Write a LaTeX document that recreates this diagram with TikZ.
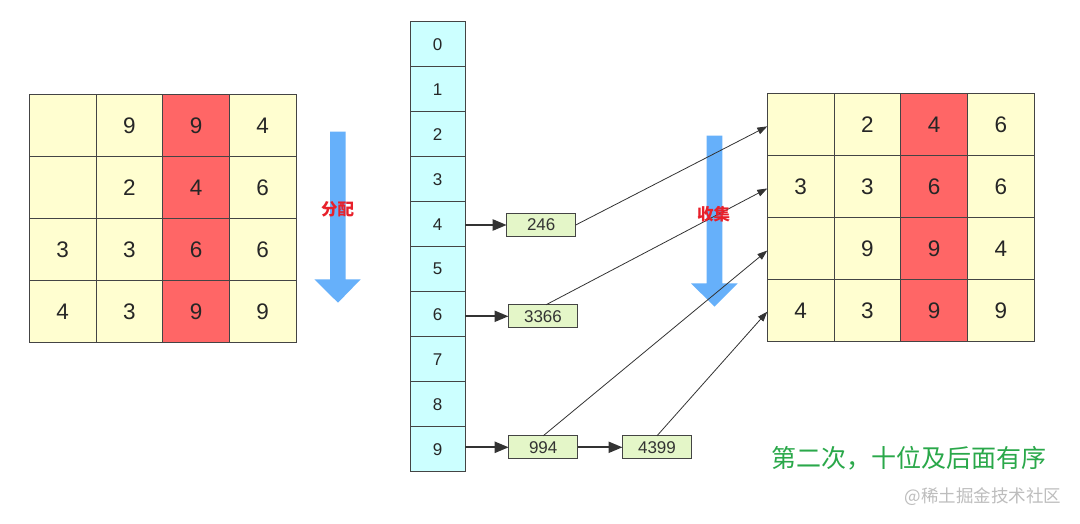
\documentclass[tikz,border=0pt]{standalone}
\usepackage{fontspec}
\setmainfont{Liberation Sans}
\newfontfamily\cjk{Noto Sans CJK SC}
\usetikzlibrary{arrows.meta}
\definecolor{yelc}{HTML}{FFFED0}
\definecolor{redc}{HTML}{FF6666}
\definecolor{cyanc}{HTML}{CCFFFF}
\definecolor{greenbox}{HTML}{E4F6C8}
\definecolor{bluearrow}{HTML}{66B0FA}
\definecolor{edgec}{HTML}{444444}
\definecolor{redtext}{HTML}{E8202A}
\definecolor{greentext}{HTML}{2AA84A}
\definecolor{wm}{HTML}{BDBDBD}
\begin{document}
\begin{tikzpicture}[x=1pt,y=-1pt,
  cell/.style={draw=edgec, line width=0.9pt, inner sep=0pt, outer sep=0pt,
    minimum width=66.7pt, minimum height=62pt, font=\fontsize{22.5}{22.5}\selectfont, text=black!85},
  bucket/.style={draw=edgec, line width=0.9pt, fill=cyanc, inner sep=0pt, outer sep=0pt,
    minimum width=55pt, minimum height=45pt, font=\fontsize{17}{17}\selectfont, text=black!85},
  valbox/.style={draw=edgec, line width=0.9pt, fill=greenbox, inner sep=0pt, outer sep=0pt,
    minimum width=69pt, minimum height=23pt, font=\fontsize{17}{17}\selectfont, text=black!80},
  thick arrow/.style={draw=black!80, line width=2.2pt, -{Triangle[length=14pt,width=11pt]}},
  thin arrow/.style={draw=black!80, line width=0.8pt, -{Triangle[length=10pt,width=7pt]}},
  bigarrow/.style={fill=bluearrow, draw=none},
  redlabel/.style={font=\cjk\bfseries\fontsize{16.5}{16.5}\selectfont, text=redtext}
]
\useasboundingbox[fill=white] (0,0) rectangle (1080,524);

% left grid
\foreach \row [count=\i] in {{{},9,9,4},{{},2,4,6},{3,3,6,6},{4,3,9,9}} {
  \foreach \v [count=\j] in \row {
    \ifnum\j=3 \def\fc{redc}\else\def\fc{yelc}\fi
    \node[cell, fill=\fc] (L\i\j) at ({29.3+66.7*(\j-0.5)}, {95+61.8*(\i-0.5)}) {\v};
  }
}
% right grid
\foreach \row [count=\i] in {{{},2,4,6},{3,3,6,6},{{},9,9,4},{4,3,9,9}} {
  \foreach \v [count=\j] in \row {
    \ifnum\j=3 \def\fc{redc}\else\def\fc{yelc}\fi
    \node[cell, fill=\fc] (R\i\j) at ({767.3+66.7*(\j-0.5)}, {93.3+62.1*(\i-0.5)}) {\v};
  }
}

% blue arrows
\fill[bigarrow] (330,131.7) -- (345.7,131.7) -- (345.7,279.3) -- (360.7,279.3) -- (338,302.7)
  -- (314.3,279.3) -- (330,279.3) -- cycle;
\fill[bigarrow] (706.7,135.7) -- (722.3,135.7) -- (722.3,283.3) -- (737.7,283.3) -- (714.5,306.7)
  -- (691,283.3) -- (706.7,283.3) -- cycle;
\node[redlabel] (fenpei) at (337.5,209) {分配};

% buckets
\foreach \k in {0,...,9} {
  \node[bucket] (b\k) at (437.5, {21.7+45*(\k+0.5)}) {\k};
}

% value boxes
\node[valbox] (v246) at (541.2,225) {246};
\node[valbox] (v3366) at (543,316.3) {3366};
\node[valbox] (v994) at (543.2,447.3) {994};
\node[valbox] (v4399) at (657,447.3) {4399};

\draw[thick arrow] (b4.east |- v246.west) -- (v246.west);
\draw[thick arrow] (b6.east |- v3366.west) -- (v3366.west);
\draw[thick arrow] (b9.east |- v994.west) -- (v994.west);
\draw[thick arrow] (v994.east) -- (v4399.west);

% collect arrows
\draw[thin arrow] (v246.east) -- ([yshift=-2pt]R11.west);
\draw[thin arrow] ([xshift=3pt]v3366.north) -- ([yshift=-2pt]R21.west);
\draw[thin arrow] (v994.north) -- ([yshift=-2pt]R31.west);
\draw[thin arrow] (v4399.north) -- ([yshift=-1pt]R41.west);

\node[redlabel] (shouji) at (713.5,214) {收集};

% captions
\node[font=\cjk\fontsize{25}{25}\selectfont, text=greentext] (caption) at (909,458) {第二次，十位及后面有序};
\node[font=\cjk\fontsize{17.5}{17.5}\selectfont, text=wm] (watermark) at (983,497) {@稀土掘金技术社区};
\end{tikzpicture}
\end{document}
